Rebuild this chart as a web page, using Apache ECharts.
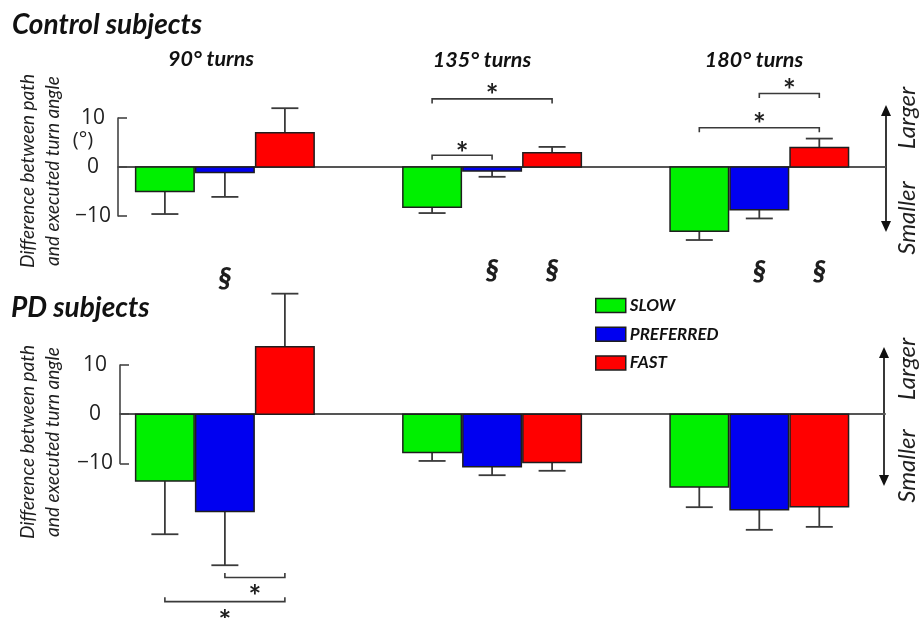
<!DOCTYPE html>
<html><head><meta charset="utf-8">
<script src="https://cdn.jsdelivr.net/npm/echarts@6/dist/echarts.min.js"></script>
<style>html,body{margin:0;padding:0;background:#fff}#c{width:919px;height:618px}</style>
</head><body><div id="c"></div>
<script>
// ---- data ----
const groups = ['90° turns', '135° turns', '180° turns'];
const speeds = ['SLOW', 'PREFERRED', 'FAST'];
const yTicks = [-10, 0, 10];

const ctrlSlow = [-5.0, -8.2, -13.1];
const ctrlSlowErr = [4.6, 1.2, 1.8];
const ctrlPref = [-1.1, -0.8, -8.7];
const ctrlPrefErr = [5.0, 1.2, 1.8];
const ctrlFast = [7.0, 2.9, 4.0];
const ctrlFastErr = [5.0, 1.2, 1.8];

const pdSlow = [-13.6, -7.8, -14.8];
const pdSlowErr = [10.8, 1.7, 4.1];
const pdPref = [-19.8, -10.7, -19.4];
const pdPrefErr = [10.9, 1.7, 4.1];
const pdFast = [13.7, -9.8, -18.8];
const pdFastErr = [10.8, 1.7, 4.1];

// significance brackets: [group, fromBar, toBar, bracketLevel, starLevel]
const ctrlBrackets = [[1, 0, 2, 13.9, 16.1], [1, 0, 1, 2.4, 4.3], [2, 1, 2, 15.0, 17.1], [2, 0, 2, 8.0, 10.2]];
const pdBrackets = [[0, 1, 2, -33.2, -35.6], [0, 0, 2, -38.1, -40.6]];
// section marks: [group, bar, level]
const ctrlSections = [[0, 1, -22.8], [1, 1, -21.2], [1, 2, -21.2], [2, 1, -21.4], [2, 2, -21.4]];

// ---- styles ----
const fills = ['#00F000', '#0000F0', '#FF0000'];
const INK = '#1e1e1e';
const LINE = '#3a3a3a';
const STEP = 60, BARW = 58.5, CAP = 27;

function barSeries(name, idx, vals, errs, axis) {
  return {
    type: 'custom', name: name, xAxisIndex: axis, yAxisIndex: axis,
    itemStyle: { color: fills[idx], borderColor: INK, borderWidth: 1.5 },
    encode: { x: 0, y: 1 }, clip: false, silent: true,
    data: vals.map((v, g) => [g, v, errs[g]]),
    renderItem: function (params, api) {
      const g = api.value(0), v = api.value(1), e = api.value(2);
      const base = api.coord([g, 0]);
      const cx = base[0] + (idx - 1) * STEP;
      const yv = api.coord([g, v])[1];
      const ye = api.coord([g, v + (v >= 0 ? e : -e)])[1];
      return { type: 'group', children: [
        { type: 'line', shape: { x1: cx, y1: yv, x2: cx, y2: ye }, style: { stroke: LINE, lineWidth: 1.8 } },
        { type: 'line', shape: { x1: cx - CAP / 2, y1: ye, x2: cx + CAP / 2, y2: ye }, style: { stroke: LINE, lineWidth: 1.8 } },
        { type: 'rect', shape: { x: cx - BARW / 2, y: Math.min(yv, base[1]), width: BARW, height: Math.abs(yv - base[1]) },
          style: { fill: fills[idx], stroke: INK, lineWidth: 1.5 } }
      ]};
    }
  };
}

function bracketSeries(list, axis) {
  return {
    type: 'custom', xAxisIndex: axis, yAxisIndex: axis, clip: false, silent: true,
    encode: { x: 0, y: 3 }, data: list, z: 5,
    renderItem: function (params, api) {
      const g = api.value(0), a = api.value(1), b = api.value(2), lv = api.value(3), sv = api.value(4);
      const c = api.coord([g, lv]);
      const x1 = c[0] + (a - 1) * STEP, x2 = c[0] + (b - 1) * STEP, y = c[1];
      const d = lv > 0 ? 4.5 : -4.5;
      const sy = api.coord([g, sv])[1];
      return { type: 'group', children: [
        { type: 'polyline', shape: { points: [[x1, y + d], [x1, y], [x2, y], [x2, y + d]] }, style: { stroke: LINE, lineWidth: 1.6, fill: null } },
        { type: 'text', x: (x1 + x2) / 2, y: sy + 8, style: { text: '*', textAlign: 'center', textVerticalAlign: 'middle', font: 'bold 30px Lato', fill: INK } }
      ]};
    }
  };
}

function sectionSeries(list, axis) {
  return {
    type: 'custom', xAxisIndex: axis, yAxisIndex: axis, clip: false, silent: true,
    encode: { x: 0, y: 2 }, data: list,
    renderItem: function (params, api) {
      const g = api.value(0), b = api.value(1), lv = api.value(2);
      const c = api.coord([g, lv]);
      return { type: 'text', x: c[0] + (b - 1) * STEP, y: c[1], style: { text: '§', textAlign: 'center', textVerticalAlign: 'middle', font: 'italic 900 28px Lato', fill: INK } };
    }
  };
}

function xAx(idx, min, max) {
  return { type: 'value', gridIndex: idx, min: min, max: max, axisLine: { onZero: true, lineStyle: { color: '#555', width: 2 } },
    axisTick: { show: false }, axisLabel: { show: false }, splitLine: { show: false } };
}
function yAx(idx) {
  return { type: 'value', gridIndex: idx, min: yTicks[0], max: yTicks[yTicks.length - 1], interval: 10,
    axisLine: { show: true, onZero: false, lineStyle: { color: '#444', width: 1.6 } },
    axisTick: { show: true, inside: true, length: 9, lineStyle: { color: '#444', width: 1.6 } },
    axisLabel: { align: 'center', margin: 25, fontFamily: 'Open Sans', fontSize: 21, color: '#222',
      formatter: v => (v < 0 ? '\u2212' + Math.abs(v) : String(v)) },
    splitLine: { show: false } };
}

function vtext(x, y, t, font) {
  return { type: 'text', x: x, y: y, rotation: Math.PI / 2, style: { text: t, textAlign: 'center', textVerticalAlign: 'middle', font: font, fill: INK } };
}
function arrow(x, y1, y2) {
  return { type: 'group', children: [
    { type: 'line', shape: { x1: x, y1: y1 + 4, x2: x, y2: y2 - 4 }, style: { stroke: '#222', lineWidth: 1.8 } },
    { type: 'polygon', shape: { points: [[x, y1], [x - 5, y1 + 11], [x + 5, y1 + 11]] }, style: { fill: '#111' } },
    { type: 'polygon', shape: { points: [[x, y2], [x - 5, y2 - 11], [x + 5, y2 - 11]] }, style: { fill: '#111' } }
  ]};
}

const groupLabelPos = [[211, 59], [482, 60], [754, 60]];
const gfx = [
  { type: 'text', x: 12, y: 25, style: { text: 'Control subjects', textVerticalAlign: 'middle', font: 'italic bold 28px Lato', fill: '#111' } },
  { type: 'text', x: 11, y: 308, style: { text: 'PD subjects', textVerticalAlign: 'middle', font: 'italic bold 28px Lato', fill: '#111' } },
  { type: 'text', x: 83, y: 140, style: { text: '(°)', textAlign: 'center', textVerticalAlign: 'middle', font: '20px Open Sans', fill: '#222' } },
  vtext(28, 171, 'Difference between path', 'italic 19px Lato'),
  vtext(53, 171, 'and executed turn angle', 'italic 19px Lato'),
  vtext(28, 442, 'Difference between path', 'italic 19px Lato'),
  vtext(53, 442, 'and executed turn angle', 'italic 19px Lato'),
  arrow(886, 105, 232), arrow(884, 347, 486),
  vtext(907, 118, 'Larger', 'italic 24px Lato'),
  vtext(907, 218, 'Smaller', 'italic 24px Lato'),
  vtext(907, 369, 'Larger', 'italic 24px Lato'),
  vtext(907, 466, 'Smaller', 'italic 24px Lato')
];
groups.forEach((g, i) => gfx.push({ type: 'text', x: groupLabelPos[i][0], y: groupLabelPos[i][1],
  style: { text: g, textAlign: 'center', textVerticalAlign: 'middle', font: 'italic bold 21.5px Lato', fill: '#111' } }));

const chart = echarts.init(document.getElementById('c'), null, { renderer: 'canvas' });
chart.setOption({
  backgroundColor: '#fff',
  animation: false,
  grid: [
    { left: 118, top: 118, width: 767, height: 98 },
    { left: 120, top: 365, width: 765, height: 98.4 }
  ],
  xAxis: [xAx(0, -0.4, 2.4704), xAx(1, -0.3925, 2.4704)],
  yAxis: [yAx(0), yAx(1)],
  legend: { orient: 'vertical', left: 595, top: 297, padding: 0, itemWidth: 30, itemHeight: 14, itemGap: 11.7,
    icon: 'rect', selectedMode: false, data: speeds,
    itemStyle: { borderColor: INK, borderWidth: 1.5 },
    textStyle: { fontFamily: 'Lato', fontStyle: 'italic', fontWeight: 'bold', fontSize: 17, color: '#111', padding: [0, 0, 0, -1] } },
  graphic: gfx,
  series: [
    barSeries(speeds[0], 0, ctrlSlow, ctrlSlowErr, 0),
    barSeries(speeds[1], 1, ctrlPref, ctrlPrefErr, 0),
    barSeries(speeds[2], 2, ctrlFast, ctrlFastErr, 0),
    barSeries(speeds[0], 0, pdSlow, pdSlowErr, 1),
    barSeries(speeds[1], 1, pdPref, pdPrefErr, 1),
    barSeries(speeds[2], 2, pdFast, pdFastErr, 1),
    bracketSeries(ctrlBrackets, 0),
    bracketSeries(pdBrackets, 1),
    sectionSeries(ctrlSections, 0)
  ]
});
</script></body></html>
